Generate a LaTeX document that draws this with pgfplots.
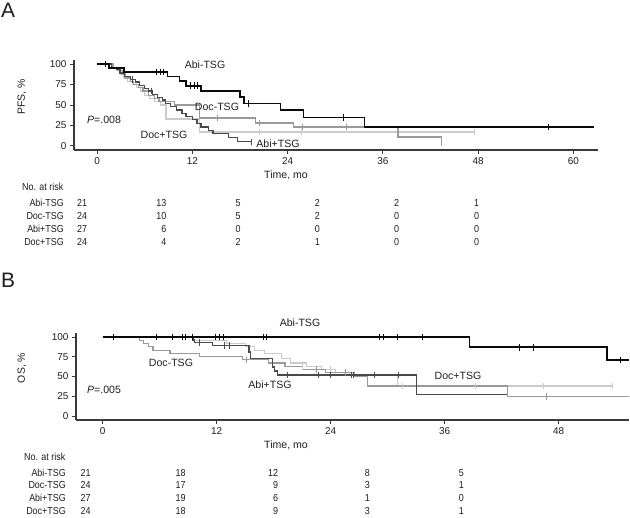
\documentclass[border=0pt]{standalone}
\usepackage{pgfplots}
\pgfplotsset{compat=1.18}
\usepackage{fontspec}
\setmainfont{Liberation Sans}
\newfontfamily\narrowfont[FakeStretch=0.88]{Liberation Sans}
\definecolor{axisgray}{HTML}{3A3A3A}
\definecolor{txt}{HTML}{1E1E1E}
\definecolor{cAbiM}{HTML}{0A0A0A}
\definecolor{cDocM}{HTML}{9A9A9A}
\definecolor{cAbiP}{HTML}{4A4A4A}
\definecolor{cDocP}{HTML}{CBCBCB}
\pgfplotsset{
  km/.style={
    scale only axis, axis x line*=bottom, axis y line*=left,
    ymin=-5, ymax=105, ytick={0,25,50,75,100},
    tick align=outside, major tick length=4bp,
    axis line style={line width=1.1bp, draw=axisgray},
    tick style={line width=0.9bp, draw=axisgray},
    tick label style={font=\fontsize{10}{12}\selectfont, text=txt},
    /pgf/number format/assume math mode=true,
    clip=false,
  },
  cens/.style={only marks, mark=|, mark size=3.3bp, mark options={line width=0.8bp}},
}
\begin{document}
\begin{tikzpicture}
\path[use as bounding box] (0,0) rectangle (630bp,518bp);
% ---------------- Panel A ----------------
\begin{axis}[km, at={(74bp,368bp)}, anchor=south west, width=524bp, height=90bp,
  xmin=-2.9, xmax=63.1, xtick={0,12,24,36,48,60}]
% Doc+TSG
\addplot[const plot, color=cDocP, line width=1.2bp] coordinates {
(0,100)(1.8,96)(2.5,92)(3.0,88)(3.3,83)(3.8,79)(4.5,75)(5.0,71)(5.5,67)(6.0,62)(6.6,58)(7.2,54)(8.0,50)(8.7,33)(12.9,17)(47.5,17)};
\addplot[cens, color=cDocP] coordinates {(20.4,17)(25.8,17)(47.5,17)};
% Doc-TSG
\addplot[const plot, color=cDocM, line width=1.2bp] coordinates {
(0,100)(2.0,96)(2.6,92)(3.2,88)(3.6,83)(4.2,79)(4.6,75)(5.2,71)(5.8,67)(6.5,62)(7.2,58)(7.8,54)(9.8,50)(12.9,34)(20.0,28)(24.7,23)(37.9,11)(43.4,11)(43.4,0)};
\addplot[cens, color=cDocM] coordinates {(15.2,34)(20.4,28)(25.9,23)(31.4,23)};
% Abi+TSG
\addplot[const plot, color=cAbiP, line width=1.2bp] coordinates {
(0,100)(1.8,96)(2.5,93)(2.9,89)(3.5,85)(4.2,81)(4.8,78)(5.3,74)(6.0,70)(6.5,67)(7.0,63)(7.6,59)(8.2,56)(8.6,52)(9.3,48)(10.0,44)(10.7,40)(11.2,36)(12.0,32)(12.6,27)(13.1,23)(14.0,19)(14.6,15)(16.6,10)(17.7,5)(19.5,5)};
\addplot[cens, color=cAbiP] coordinates {(4.4,81)(6.8,67)(19.5,5)};
% Abi-TSG
\addplot[const plot, color=cAbiM, line width=1.5bp] coordinates {
(0,100)(1.5,95.2)(3.4,90.5)(8.9,84.8)(10.4,79.2)(11.2,73.5)(13.1,67)(18.0,60)(18.5,52)(23.1,44)(26.0,35)(33.7,23)(62.6,23)};
\addplot[cens, color=cAbiM] coordinates {(1.1,100)(7.5,90.5)(8.0,90.5)(8.4,90.5)(11.8,73.5)(12.3,73.5)(12.7,73.5)(19.1,52)(31.0,35)(56.9,23)};
\end{axis}
% ---------------- Panel B ----------------
\begin{axis}[km, at={(76bp,98bp)}, anchor=south west, width=553bp, height=87bp,
  xmin=-2.8, xmax=55.4, xtick={0,12,24,36,48}]
% Doc+TSG
\addplot[const plot, color=cDocP, line width=1.2bp] coordinates {
(0,100)(9.5,96)(13.0,92)(15.0,88)(16.0,83)(17.0,79)(18.8,73)(19.8,67)(21.5,63)(23.0,59)(24.5,55)(26.0,52)(31.0,38)(53.6,38)};
\addplot[cens, color=cDocP] coordinates {(21.0,63)(24.0,59)(31.5,38)(39.2,38)(46.4,38)(53.6,38)};
% Doc-TSG
\addplot[const plot, color=cDocM, line width=1.2bp] coordinates {
(0,100)(3.9,96)(4.3,92)(4.8,88)(5.3,83)(7.1,79)(10.2,75)(14.7,71)(17.5,67)(19.2,63)(21.0,59)(23.5,55)(26.5,50)(27.9,38)(42.6,25)(55.4,25)};
\addplot[cens, color=cDocM] coordinates {(15.1,71)(22.5,59)(25.5,55)(46.7,25)};
% Abi+TSG
\addplot[const plot, color=cAbiP, line width=1.3bp] coordinates {
(0,100)(9.5,96)(9.7,93)(11.6,89)(15.4,81)(15.6,73)(17.9,62)(18.1,57)(18.4,52)(33.0,27)(42.6,27)};
\addplot[cens, color=cAbiP] coordinates {(10.2,93)(12.8,89)(13.3,89)(19.4,52)(22.7,52)(24.0,52)(26.2,52)(26.4,52)(28.6,52)(31.1,52)};
% Abi-TSG
\addplot[const plot, color=cAbiM, line width=1.5bp] coordinates {
(0,100)(38.6,87)(53.1,71)(55.4,71)};
\addplot[cens, color=cAbiM] coordinates {(1.1,100)(5.7,100)(7.3,100)(8.4,100)(8.7,100)(9.4,100)(11.9,100)(12.3,100)(12.7,100)(16.9,100)(17.2,100)(29.1,100)(29.5,100)(31.0,100)(33.7,100)(43.9,87)(45.3,87)(54.5,71)};
\end{axis}
% ---------------- Texts ----------------
\begin{scope}[x=1bp, y=-1bp, shift={(0,518bp)}, every node/.style={text=txt, inner sep=0pt}]
\node[anchor=north west, font=\fontsize{21}{24}\selectfont] at (1,3) {A};
\node[anchor=north west, font=\fontsize{21}{24}\selectfont] at (1,273) {B};
\node[rotate=90, font=\fontsize{10.5}{12}\selectfont] at (22,97) {PFS, \%};
\node[rotate=90, font=\fontsize{10.5}{12}\selectfont] at (22,368) {OS, \%};
\begin{scope}[every node/.append style={font=\fontsize{10.6}{12}\selectfont}]
\node at (205,65) {Abi-TSG};
\node at (217,107) {Doc-TSG};
\node at (164,135) {Doc+TSG};
\node at (278,144) {Abi+TSG};
\node[anchor=west] at (87,120) {\textit{P}=.008};
\node at (300,323) {Abi-TSG};
\node at (171,363) {Doc-TSG};
\node at (270,385) {Abi+TSG};
\node at (458,376) {Doc+TSG};
\node[anchor=west] at (87,390) {\textit{P}=.005};
\node at (286,175) {Time, mo};
\node at (286,445) {Time, mo};
\end{scope}
\begin{scope}[every node/.append style={font=\narrowfont\fontsize{10.2}{12}\selectfont}]
% table A
\node[anchor=west] at (22,187) {No. at risk};
\foreach \lab/\y in {Abi-TSG/203.3, Doc-TSG/216, Abi+TSG/229, Doc+TSG/241.7}
  \node[anchor=east] at (64,\y) {\lab};
\foreach \x/\a/\b/\c/\d in {87.3/21/24/27/24, 166.5/13/10/6/4, 240.7/5/5/0/2, 320/2/2/0/1, 399.3/2/0/0/0, 479.3/1/0/0/0}{
  \node[anchor=east] at (\x,203.3) {\a};
  \node[anchor=east] at (\x,216) {\b};
  \node[anchor=east] at (\x,229) {\c};
  \node[anchor=east] at (\x,241.7) {\d};
}
% table B
\node[anchor=west] at (24,457) {No. at risk};
\foreach \lab/\y in {Abi-TSG/472.7, Doc-TSG/485, Abi+TSG/498.3, Doc+TSG/510.7}
  \node[anchor=east] at (66,\y) {\lab};
\foreach \x/\a/\b/\c/\d in {90.7/21/24/27/24, 185.7/18/17/19/18, 278.3/12/9/6/9, 370/8/3/1/3, 464/5/1/0/1}{
  \node[anchor=east] at (\x,472.7) {\a};
  \node[anchor=east] at (\x,485) {\b};
  \node[anchor=east] at (\x,498.3) {\c};
  \node[anchor=east] at (\x,510.7) {\d};
}
\end{scope}
\end{scope}
\end{tikzpicture}
\end{document}
